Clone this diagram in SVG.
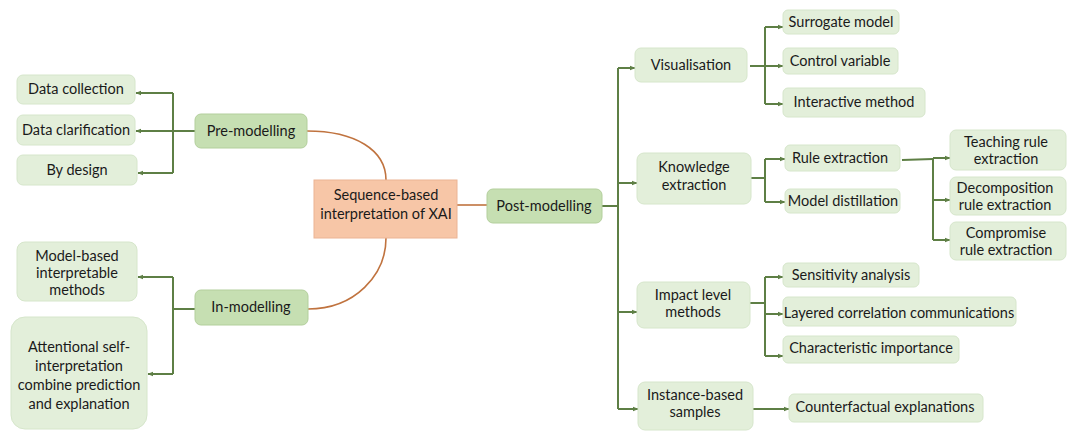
<svg xmlns="http://www.w3.org/2000/svg" width="1077" height="431" viewBox="0 0 1077 431">
<defs>
<marker id="ah" viewBox="0 0 10 10" refX="9" refY="5" markerWidth="6" markerHeight="6" orient="auto" markerUnits="userSpaceOnUse">
<path d="M0,1 L10,5 L0,9 Z" fill="#5E7F45"/>
</marker>
<style>
.lt{fill:#E3EFDA;stroke:#D6E6CB;stroke-width:1}
.dk{fill:#C6DFB2;stroke:#B3CF9C;stroke-width:1}
.ctr{fill:#F7C6A7;stroke:#EBB494;stroke-width:1}
text{font-family:Lato,"Open Sans","Liberation Sans",sans-serif;font-size:14.5px;fill:#1a1a1a;text-anchor:middle}
.c{fill:none;stroke:#5E7F45;stroke-width:2}
.a{fill:none;stroke:#5E7F45;stroke-width:2;marker-end:url(#ah)}
.br{fill:none;stroke:#C0733F;stroke-width:1.6}
</style>
</defs>
<rect width="1077" height="431" fill="#ffffff"/>

<g id="connectors">
<path class="br" d="M307,131 C355,131 386,150 386,180"/>
<path class="br" d="M386,238 C386,275 355,309 308,309"/>
<path class="br" d="M457,205 L487,205"/>
<!-- pre-modelling -->
<path class="c" d="M195,131 L173,131"/>
<path class="c" d="M173,93 L173,173"/>
<path class="a" d="M173,93 L136,93"/>
<path class="a" d="M173,131 L136,131"/>
<path class="a" d="M173,173 L138,173"/>
<!-- in-modelling -->
<path class="c" d="M195,309 L173,309"/>
<path class="c" d="M173,277 L173,374"/>
<path class="a" d="M173,277 L138,277"/>
<path class="a" d="M173,374 L148,374"/>
<!-- post-modelling -->
<path class="c" d="M602,206 L618,206"/>
<path class="c" d="M618,68 L618,409"/>
<path class="a" d="M618,68 L635,68"/>
<path class="a" d="M618,183 L637,183"/>
<path class="a" d="M618,312 L637,312"/>
<path class="a" d="M618,409 L638,409"/>
<!-- visualisation -->
<path class="c" d="M750,66 L765,66"/>
<path class="c" d="M765,27 L765,104"/>
<path class="a" d="M765,27 L783,27"/>
<path class="a" d="M765,66 L783,66"/>
<path class="a" d="M765,104 L783,104"/>
<!-- knowledge -->
<path class="c" d="M751,178 L765,178"/>
<path class="c" d="M765,159 L765,202"/>
<path class="a" d="M765,159 L785,159"/>
<path class="a" d="M765,202 L785,202"/>
<!-- rule extraction -->
<path class="c" d="M902,160 L933,159"/>
<path class="c" d="M933,158 L933,240"/>
<path class="a" d="M933,158 L950,158"/>
<path class="a" d="M933,200 L950,200"/>
<path class="a" d="M933,240 L950,240"/>
<!-- impact -->
<path class="c" d="M750,303 L765,303"/>
<path class="c" d="M765,277 L765,356"/>
<path class="a" d="M765,277 L783,277"/>
<path class="a" d="M765,314 L783,314"/>
<path class="a" d="M765,356 L783,356"/>
<!-- instance -->
<path class="a" d="M753,409 L789,409"/>
</g>

<g id="center"><rect class="ctr" x="314" y="180" width="143" height="58"/><text x="386" y="200">Sequence-based</text><text x="386" y="219">interpretation of XAI</text></g>

<g id="pre-modelling"><rect class="dk" x="195" y="114" width="112" height="34" rx="6"/><text x="251" y="136">Pre-modelling</text></g>
<g id="in-modelling"><rect class="dk" x="195" y="290" width="113" height="35" rx="6"/><text x="251" y="312">In-modelling</text></g>
<g id="post-modelling"><rect class="dk" x="487" y="189" width="115" height="34" rx="6"/><text x="544" y="211">Post-modelling</text></g>

<g id="data-collection"><rect class="lt" x="17" y="75" width="118" height="29" rx="6"/><text x="76" y="94">Data collection</text></g>
<g id="data-clarification"><rect class="lt" x="17" y="115" width="118" height="30" rx="6"/><text x="76" y="135">Data clarification</text></g>
<g id="by-design"><rect class="lt" x="17" y="155" width="120" height="30" rx="6"/><text x="77" y="175">By design</text></g>

<g id="model-based"><rect class="lt" x="17" y="242" width="120" height="59" rx="8"/><text x="77" y="261">Model-based</text><text x="77" y="278">interpretable</text><text x="77" y="295">methods</text></g>
<g id="attentional"><rect class="lt" x="11" y="317" width="136" height="112" rx="14"/><text x="79" y="352">Attentional self-</text><text x="79" y="371">interpretation</text><text x="79" y="390">combine prediction</text><text x="79" y="409">and explanation</text></g>

<g id="visualisation"><rect class="lt" x="635" y="48" width="112" height="34" rx="6"/><text x="691" y="70">Visualisation</text></g>
<g id="surrogate"><rect class="lt" x="783" y="10" width="116" height="24" rx="5"/><text x="841" y="27">Surrogate model</text></g>
<g id="control"><rect class="lt" x="783" y="48" width="115" height="26" rx="5"/><text x="840" y="66">Control variable</text></g>
<g id="interactive"><rect class="lt" x="783" y="88" width="142" height="29" rx="5"/><text x="854" y="107">Interactive method</text></g>

<g id="knowledge"><rect class="lt" x="637" y="153" width="114" height="51" rx="7"/><text x="694" y="172">Knowledge</text><text x="694" y="190">extraction</text></g>
<g id="rule-extraction"><rect class="lt" x="785" y="145" width="115" height="26" rx="5"/><text x="840" y="163">Rule extraction</text></g>
<g id="model-distillation"><rect class="lt" x="785" y="189" width="115" height="24" rx="5"/><text x="843" y="206">Model distillation</text></g>
<g id="teaching"><rect class="lt" x="950" y="130" width="116" height="40" rx="6"/><text x="1006" y="147">Teaching rule</text><text x="1006" y="164">extraction</text></g>
<g id="decomposition"><rect class="lt" x="950" y="177" width="116" height="38" rx="6"/><text x="1005" y="193">Decomposition</text><text x="1005" y="210">rule extraction</text></g>
<g id="compromise"><rect class="lt" x="950" y="222" width="116" height="38" rx="6"/><text x="1006" y="238">Compromise</text><text x="1006" y="255">rule extraction</text></g>

<g id="impact"><rect class="lt" x="637" y="282" width="113" height="46" rx="7"/><text x="693" y="300">Impact level</text><text x="693" y="317">methods</text></g>
<g id="sensitivity"><rect class="lt" x="783" y="263" width="136" height="24" rx="5"/><text x="851" y="280">Sensitivity analysis</text></g>
<g id="layered"><rect class="lt" x="783" y="297" width="233" height="29" rx="5"/><text x="899" y="318">Layered correlation communications</text></g>
<g id="characteristic"><rect class="lt" x="783" y="336" width="176" height="27" rx="5"/><text x="871" y="353">Characteristic importance</text></g>

<g id="instance"><rect class="lt" x="638" y="382" width="115" height="48" rx="7"/><text x="695" y="400">Instance-based</text><text x="695" y="417">samples</text></g>
<g id="counterfactual"><rect class="lt" x="789" y="394" width="194" height="28" rx="5"/><text x="885" y="412">Counterfactual explanations</text></g>
</svg>
